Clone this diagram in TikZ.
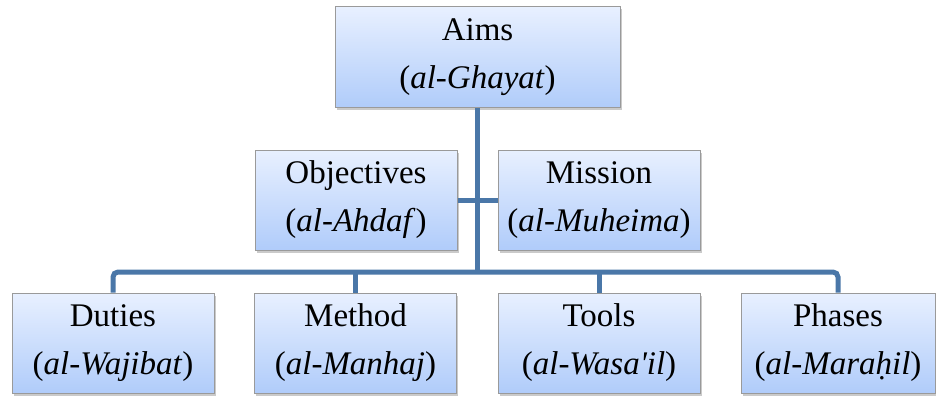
\documentclass[tikz,border=0pt]{standalone}
\usepackage{fontspec}
\setmainfont{Liberation Serif}
\usetikzlibrary{shadows}
\definecolor{boxtop}{HTML}{E8F0FF}
\definecolor{boxbottom}{HTML}{B0CCFA}
\definecolor{boxline}{HTML}{9A9A9A}
\definecolor{linkblue}{HTML}{4A77A8}

\begin{document}
\begin{tikzpicture}[x=1pt,y=-1pt,
	box/.style={rectangle,draw=boxline,line width=1pt,top color=boxtop,bottom color=boxbottom,
		minimum width=202pt,minimum height=100pt,inner sep=0pt,align=center,
		font=\fontsize{33}{48}\selectfont,
		drop shadow={shadow xshift=1.5pt,shadow yshift=-2.5pt,opacity=.35,fill=black!60}},
	link/.style={draw=linkblue,line width=5pt}]
		\useasboundingbox (0,0) rectangle (936,396);
		\node[box,minimum width=285pt] (aims) at (477.5,57) {Aims\\(\textit{al-Ghayat})};
		\node[box] (objectives) at (356,200) {Objectives\\(\textit{al-Ahdaf})};
		\node[box] (mission) at (599,200) {Mission\\(\textit{al-Muheima})};
		\node[box] (duties) at (113,343) {Duties\\(\textit{al-Wajibat})};
		\node[box] (method) at (355.5,343) {Method\\(\textit{al-Manhaj})};
		\node[box] (tools) at (599,343) {Tools\\(\textit{al-Wasa\textquotesingle il})};
		\node[box,minimum width=194pt] (phases) at (838,343) {Phases\\(\textit{al-Maraḥil})};
		\coordinate (bus) at (477.5,272);
		\draw[link] (aims.south) -- (bus);
		\draw[link] (objectives.east) -- (mission.west);
		\draw[link,rounded corners=5pt] (duties.north) |- (bus) -| (phases.north);
		\draw[link] (method.north) -- (method.north |- bus);
		\draw[link] (tools.north) -- (tools.north |- bus);
	\end{tikzpicture}
\end{document}
